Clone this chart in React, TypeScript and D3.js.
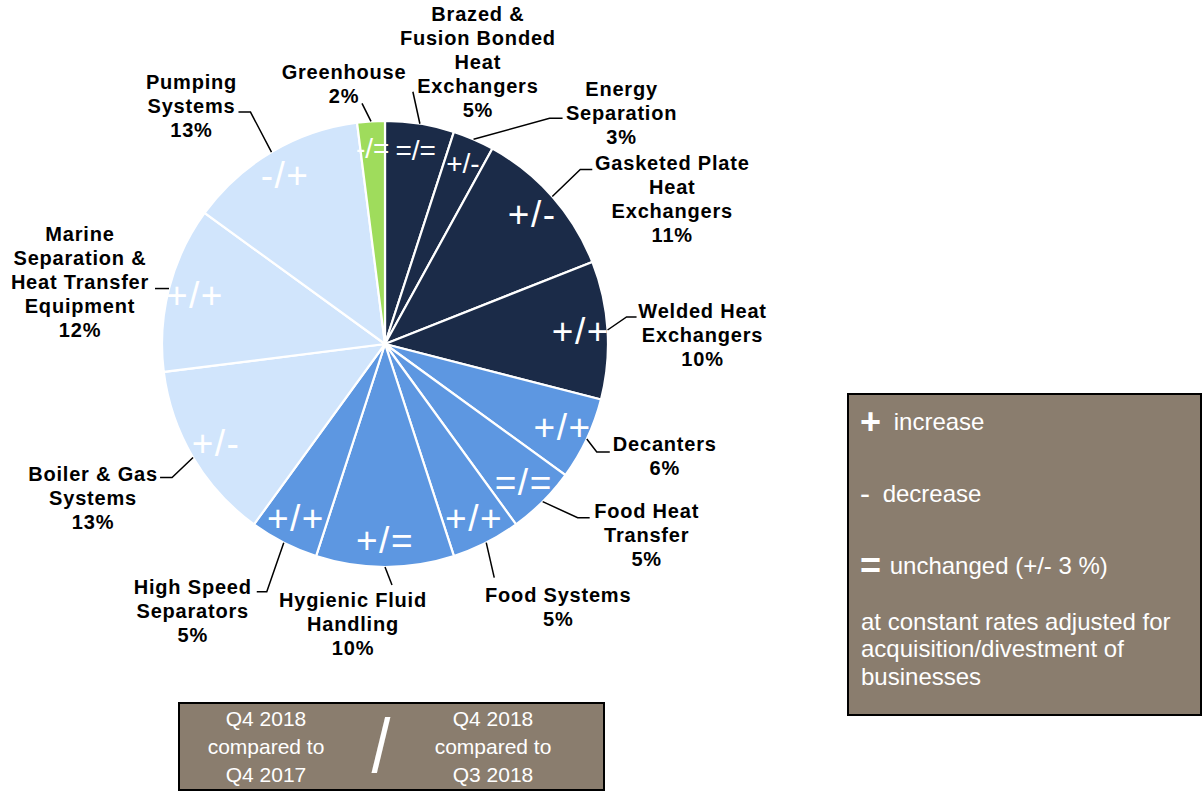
import React from 'react';
import * as d3 from 'd3';

// segment data, clockwise from 12 o'clock
const segmentLines = [
  ['Brazed &', 'Fusion Bonded', 'Heat', 'Exchangers'],
  ['Energy', 'Separation'],
  ['Gasketed Plate', 'Heat', 'Exchangers'],
  ['Welded Heat', 'Exchangers'],
  ['Decanters'],
  ['Food Heat', 'Transfer'],
  ['Food Systems'],
  ['Hygienic Fluid', 'Handling'],
  ['High Speed', 'Separators'],
  ['Boiler & Gas', 'Systems'],
  ['Marine', 'Separation &', 'Heat Transfer', 'Equipment'],
  ['Pumping', 'Systems'],
  ['Greenhouse'],
];
const shares = [5, 3, 11, 10, 6, 5, 5, 10, 5, 13, 12, 13, 2];
const divisions = [
  'Energy', 'Energy', 'Energy', 'Energy',
  'Food & Water', 'Food & Water', 'Food & Water', 'Food & Water', 'Food & Water',
  'Marine', 'Marine', 'Marine',
  'Greenhouse',
];
// Q4 2018 vs Q4 2017 / Q4 2018 vs Q3 2018
const vsLastYear = ['=', '+', '+', '+', '+', '=', '+', '+', '+', '+', '+', '-', '-'];
const vsLastQuarter = ['=', '-', '-', '+', '+', '=', '+', '=', '+', '-', '+', '+', '='];

const divisionNames = ['Energy', 'Food & Water', 'Marine', 'Greenhouse'];
const divisionColors = ['#1b2b48', '#5d97e1', '#d1e5fc', '#9fdc5c'];

const legendSymbols = ['+', '-', '='];
const legendWords = ['increase', 'decrease', 'unchanged (+/- 3 %)'];
const legendNote = ['at constant rates adjusted for', 'acquisition/divestment of', 'businesses'];
const periodLeft = ['Q4 2018', 'compared to', 'Q4 2017'];
const periodRight = ['Q4 2018', 'compared to', 'Q3 2018'];

const W = 1203;
const H = 791;
const cx = 385;
const cy = 344;
const R = 223;
const FONT = 'Liberation Sans, Arial, sans-serif';

// hand placed callouts, offsets from the slice's outer mid point
const labelLayout: { text: [number, number]; elbow: [number, number]; tail: number }[] = [
  { text: [58, -110], elbow: [-7, -32], tail: 0 },
  { text: [148, -50], elbow: [76, -21], tail: 13 },
  { text: [120, -34], elbow: [28, -27], tail: 12 },
  { text: [95, -19], elbow: [19, -13], tail: 10 },
  { text: [78, 5], elbow: [10, 13], tail: 13 },
  { text: [104, 9], elbow: [35, 16], tail: 12 },
  { text: [72, 52], elbow: [8, 35], tail: 0 },
  { text: [-32, 33], elbow: [7, 18], tail: 0 },
  { text: [-91, 44], elbow: [-17, 49], tail: -10 },
  { text: [-100, 16], elbow: [-21, 20], tail: -12 },
  { text: [-89, -55], elbow: [-14, 0], tail: 0 },
  { text: [-80, -70], elbow: [-21, -40], tail: -12 },
  { text: [-27, -49], elbow: [-9, -18], tail: 0 },
];
const compactSigns = new Set([0, 1, 12]);

export default function App() {
  const data = shares.map((s, i) => ({ i, share: s, division: divisions[i] }));
  const pie = d3.pie<{ i: number; share: number; division: string }>().sort(null).value((d) => d.share);
  const arcs = pie(data);
  const arcPath = d3.arc<d3.PieArcDatum<any>>().innerRadius(0).outerRadius(R);
  const edgeArc = d3.arc<d3.PieArcDatum<any>>().innerRadius(R).outerRadius(R);
  const signArc = d3.arc<d3.PieArcDatum<any>>().innerRadius(R * 0.88).outerRadius(R * 0.88);
  const color = d3.scaleOrdinal<string, string>().domain(divisionNames).range(divisionColors);

  return (
    <svg width={W} height={H} style={{ position: 'absolute', left: 0, top: 0, fontFamily: FONT }}>
      <rect width={W} height={H} fill="#fff" />
      <g transform={`translate(${cx},${cy})`}>
        {arcs.map((a) => (
          <path key={a.data.i} d={arcPath(a) || ''} fill={color(a.data.division)} stroke="#fff" strokeWidth={2.2} />
        ))}
        {arcs.map((a) => {
          const [x, y] = signArc.centroid(a);
          const small = compactSigns.has(a.data.i);
          return (
            <text
              key={a.data.i}
              x={x}
              y={y}
              textAnchor="middle"
              dominantBaseline="central"
              fill="#fff"
              fontSize={small ? 28 : 37}
              letterSpacing={small ? 0 : 1.5}
            >
              {`${vsLastYear[a.data.i]}/${vsLastQuarter[a.data.i]}`}
            </text>
          );
        })}
      </g>
      {arcs.map((a) => {
        const [ax0, ay0] = edgeArc.centroid(a);
        const ax = ax0 + cx;
        const ay = ay0 + cy;
        const lay = labelLayout[a.data.i];
        const ex = ax + lay.elbow[0];
        const ey = ay + lay.elbow[1];
        let d = `M${ax},${ay}L${ex},${ey}`;
        if (lay.tail) d += `L${ex + lay.tail},${ey}`;
        const tx = ax + lay.text[0];
        const ty = ay + lay.text[1];
        const lines = [...segmentLines[a.data.i], `${a.data.share}%`];
        return (
          <g key={a.data.i}>
            <path d={d} fill="none" stroke="#000" strokeWidth={1.5} />
            <text
              x={tx}
              y={ty}
              textAnchor="middle"
              fontSize={20}
              fontWeight="bold"
              letterSpacing={0.8}
              fill="#000"
            >
              {lines.map((l, k) => (
                <tspan key={k} x={tx} y={ty + k * 24} dominantBaseline="central">
                  {l}
                </tspan>
              ))}
            </text>
          </g>
        );
      })}

      {/* period box */}
      <rect x={179} y={703} width={425} height={87} fill="#8a7d6e" stroke="#000" strokeWidth={2} />
      {periodLeft.map((l, k) => (
        <text key={'l' + k} x={266} y={718 + k * 28} textAnchor="middle" dominantBaseline="central" fontSize={21} fill="#fff">
          {l}
        </text>
      ))}
      {periodRight.map((l, k) => (
        <text key={'r' + k} x={493} y={718 + k * 28} textAnchor="middle" dominantBaseline="central" fontSize={21} fill="#fff">
          {l}
        </text>
      ))}
      <text
        transform="translate(381,746) scale(1,1.12)"
        textAnchor="middle"
        dominantBaseline="central"
        fontSize={68}
        fill="#fff"
      >
        /
      </text>

      {/* legend box */}
      <rect x={848} y={394} width={353} height={321} fill="#8a7d6e" stroke="#000" strokeWidth={2} />
      {legendSymbols.map((s, k) => (
        <text key={k} x={860} y={421 + k * 72} dominantBaseline="central" fill="#fff" fontSize={24}>
          <tspan fontSize={k === 1 ? 30 : 36} fontWeight={k === 1 ? 'normal' : 'bold'}>{s}</tspan>
          <tspan dx={k === 2 ? 2 : 6}> {legendWords[k]}</tspan>
        </text>
      ))}
      {legendNote.map((l, k) => (
        <text key={'n' + k} x={861} y={621 + k * 27.5} dominantBaseline="central" fill="#fff" fontSize={24}>
          {l}
        </text>
      ))}
    </svg>
  );
}
